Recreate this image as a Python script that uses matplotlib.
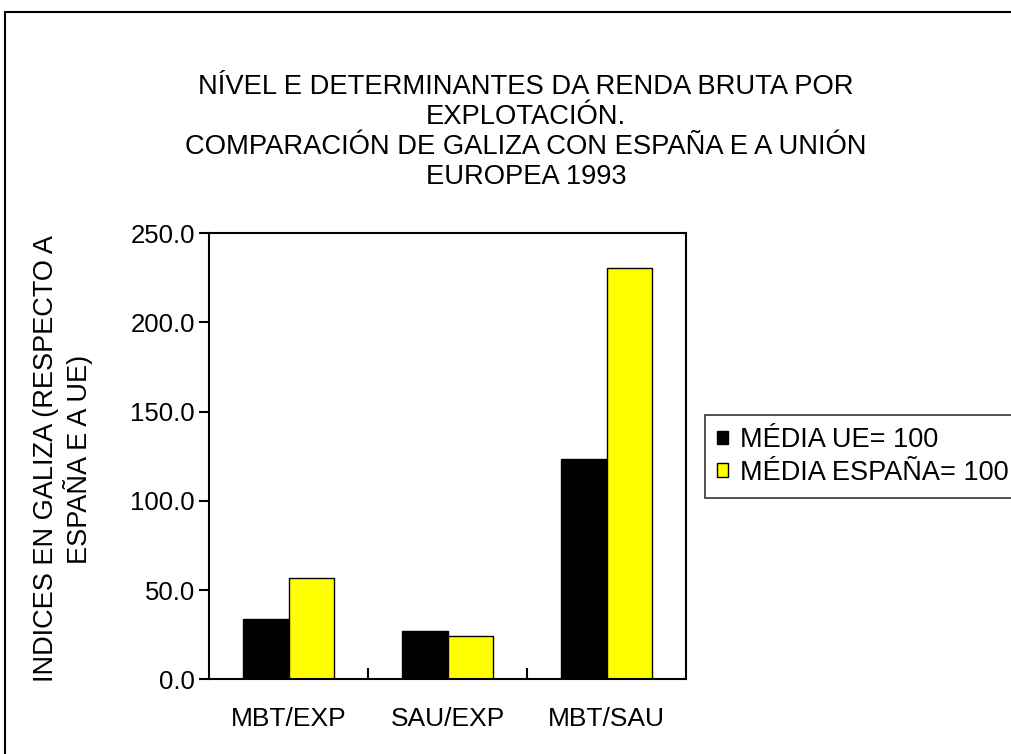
import matplotlib
matplotlib.use("Agg")
import matplotlib.pyplot as plt
from matplotlib.patches import Rectangle
import numpy as np

plt.rcParams["font.family"] = ["Liberation Sans", "DejaVu Sans"]

categories = ["MBT/EXP", "SAU/EXP", "MBT/SAU"]
media_ue = [33.8, 26.9, 123.5]
media_espana = [57.0, 24.4, 230.7]
series_labels = ["MÉDIA UE= 100", "MÉDIA ESPAÑA= 100"]
title = ("NÍVEL E DETERMINANTES DA RENDA BRUTA POR\nEXPLOTACIÓN.\n"
         "COMPARACIÓN DE GALIZA CON ESPAÑA E A UNIÓN\nEUROPEA 1993")
ylabel = "INDICES EN GALIZA (RESPECTO A\nESPAÑA E A UE)"

W, H = 1011, 754
fig = plt.figure(figsize=(W / 100, H / 100), dpi=100)
ax = fig.add_axes([209 / W, 1 - 679.3 / H, (686 - 209) / W, (679.3 - 233.3) / H])

x = np.arange(len(categories))
bw = 0.288
ax.bar(x - bw / 2, media_ue, bw, color="black", edgecolor="black", linewidth=1,
       label=series_labels[0])
ax.bar(x + bw / 2, media_espana, bw, color="#ffff00", edgecolor="black", linewidth=1,
       label=series_labels[1])

ax.set_xlim(-0.5, len(categories) - 0.5)
ax.set_ylim(0, 250)
ax.set_yticks(np.arange(0, 251, 50))
ax.set_yticklabels([f"{v:.1f}" for v in np.arange(0, 251, 50)])
ax.set_xticks(x)
ax.set_xticklabels(categories)
ax.set_xticks(x[:-1] + 0.5, minor=True)
ax.tick_params(axis="x", which="major", length=0, pad=20, labelsize=19)
ax.tick_params(axis="x", which="minor", direction="in", length=8, width=1.5)
ax.tick_params(axis="y", direction="out", length=7, width=1.5, pad=3, labelsize=18.5)
for sp in ax.spines.values():
    sp.set_linewidth(1.5)

fig.text(63 / W, 1 - 459 / H, ylabel, rotation=90, ha="center", va="center",
         fontsize=19.5, multialignment="center", linespacing=1.15)
fig.text(526 / W, 1 - 132 / H, title, ha="center", va="center", fontsize=19.7,
         linespacing=1.2)

leg = fig.legend(loc="upper left", bbox_to_anchor=(705 / W, 1 - 415 / H), frameon=True,
                 fancybox=False, edgecolor="black", fontsize=19.5, handlelength=0.4,
                 handleheight=0.4, handletextpad=0.45, borderpad=0.45, labelspacing=0.25,
                 borderaxespad=0)
leg.get_frame().set_linewidth(1.2)

fig.add_artist(Rectangle((5 / W, -0.1), 2, 1.1 - 12 / H, transform=fig.transFigure,
                         fill=False, edgecolor="black", linewidth=1.5))

fig.savefig("out.png", dpi=100)
